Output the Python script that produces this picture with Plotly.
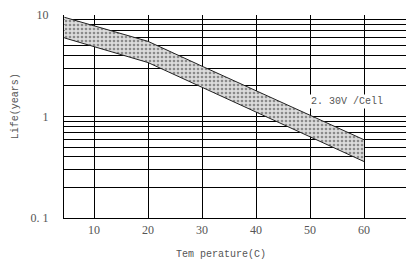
import plotly.graph_objects as go

temps = [4.5, 10, 20, 30, 40, 50, 60]
life_upper = [9.5, 7.8, 5.5, 3.13, 1.79, 1.02, 0.59]
life_lower = [5.95, 4.9, 3.4, 1.94, 1.10, 0.63, 0.36]

x_ticks = [10, 20, 30, 40, 50, 60]
y_grid = [0.1, 0.2, 0.3, 0.4, 0.5, 0.6, 0.7, 0.8, 0.9,
          1, 2, 3, 4, 5, 6, 7, 8, 9, 10]
y_labels = {0.1: "0. 1", 1: "1", 10: "10"}

fig = go.Figure()
fig.add_trace(go.Scatter(x=temps, y=life_lower, mode="lines",
                         line=dict(color="#222", width=1), showlegend=False))
fig.add_trace(go.Scatter(x=temps, y=life_upper, mode="lines",
                         line=dict(color="#222", width=1), showlegend=False,
                         fill="tonexty", fillcolor="#cfcfcf",
                         fillpattern=dict(shape=".", fgcolor="#8a8a8a", bgcolor="#dcdcdc",
                                          size=4, solidity=0.35)))

tick_font = dict(family="Liberation Serif", size=12, color="#555555")

# page body has an 8px default margin, so the figure is sized to fit inside it
fig.update_layout(
    template="none",
    width=406, height=256,
    margin=dict(l=56, r=0, t=7, b=46),
    paper_bgcolor="white", plot_bgcolor="white",
    font=dict(family="Liberation Serif", size=12, color="#555555"),
    xaxis=dict(range=[4.44, 69.26], tickvals=x_ticks, showgrid=True,
               gridcolor="black", gridwidth=1.4, zeroline=False,
               showline=True, linecolor="black", linewidth=1.4,
               ticks="", automargin=False, tickfont=tick_font),
    yaxis=dict(type="log", range=[-1, 1], tickvals=y_grid,
               ticktext=[y_labels.get(v, "") for v in y_grid],
               showgrid=True, gridcolor="black", gridwidth=1.2, zeroline=False,
               showline=True, linecolor="black", linewidth=1.4,
               ticks="", ticklabelstandoff=12, automargin=False,
               tickfont=tick_font),
    annotations=[
        dict(text="Tem perature(C)", xref="paper", yref="paper", x=0.449, y=-0.18,
             yanchor="middle", showarrow=False,
             font=dict(family="Liberation Mono", size=10, color="#555555")),
        dict(text="Life(years)", xref="paper", yref="paper", x=-0.158, y=0.552,
             xanchor="left", yanchor="middle",
             textangle=-90, showarrow=False,
             font=dict(family="Liberation Mono", size=10, color="#555555")),
        dict(text="2. 30V /Cell", xref="x", yref="y", x=56.85, y=0.146,
             showarrow=False, bgcolor="white",
             font=dict(family="Liberation Mono", size=10, color="#555555")),
    ],
)

fig.write_html("out.html")
